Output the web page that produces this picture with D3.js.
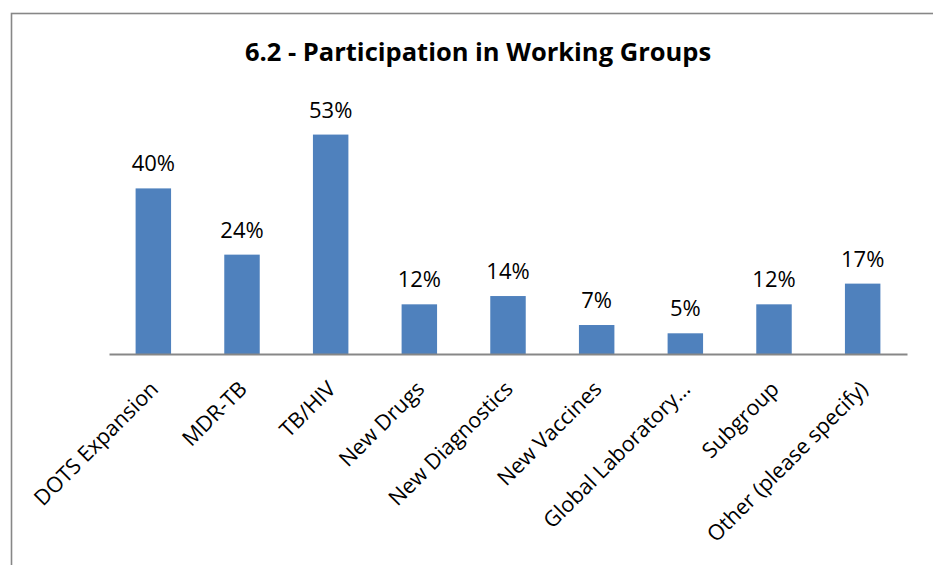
<!DOCTYPE html>
<html>
<head>
<meta charset="utf-8">
<script src="https://cdn.jsdelivr.net/npm/d3@7"></script>
<style>
  body { margin: 0; background: #fff; }
  svg { display: block; }
</style>
</head>
<body>
<div id="chart"></div>
<script>
// values
var groups = ["DOTS Expansion", "MDR-TB", "TB/HIV", "New Drugs", "New Diagnostics",
  "New Vaccines", "Global Laboratory\u2026", "Subgroup", "Other (please specify)"];
var shares = [0.40, 0.24, 0.53, 0.12, 0.14, 0.07, 0.05, 0.12, 0.17];
var yDomain = [0, 0.6];
var chartTitle = "6.2 - Participation in Working Groups";

var width = 933, height = 565;
var margin = {top: 106, right: 26, bottom: 211, left: 109};

var svg = d3.select("#chart").append("svg")
  .attr("width", width)
  .attr("height", height);

// chart frame (cut off on the right and bottom in the original)
svg.append("rect")
  .attr("x", 11.5).attr("y", 13.5)
  .attr("width", 1000).attr("height", 1000)
  .attr("fill", "none")
  .attr("stroke", "#878787")
  .attr("stroke-width", 1.6);

var x = d3.scaleBand()
  .domain(groups)
  .range([margin.left, width - margin.right])
  .paddingInner(0.6)
  .paddingOuter(0.3);

var y = d3.scaleLinear()
  .domain(yDomain)
  .range([height - margin.bottom, height - margin.bottom - 0.6 * 414]);

var data = groups.map(function(g, i){ return {name: g, value: shares[i]}; });

svg.append("text")
  .attr("x", 478)
  .attr("y", 61)
  .attr("text-anchor", "middle")
  .attr("font-family", "Open Sans")
  .attr("font-weight", "bold")
  .attr("font-size", "25.5px")
  .attr("fill", "#000")
  .text(chartTitle);

svg.selectAll(".bar")
  .data(data)
  .enter().append("rect")
  .attr("class", "bar")
  .attr("x", function(d){ return x(d.name); })
  .attr("width", x.bandwidth())
  .attr("y", function(d){ return y(d.value); })
  .attr("height", function(d){ return y(0) - y(d.value); })
  .attr("fill", "#4f81bd");

svg.selectAll(".value")
  .data(data)
  .enter().append("text")
  .attr("class", "value")
  .attr("x", function(d){ return x(d.name) + x.bandwidth() / 2; })
  .attr("y", function(d){ return y(d.value) - 17; })
  .attr("text-anchor", "middle")
  .attr("font-family", "Open Sans")
  .attr("font-size", "22px")
  .attr("fill", "#000")
  .text(function(d){ return Math.round(d.value * 100) + "%"; });

// category axis
var xAxis = svg.append("g")
  .attr("transform", "translate(0," + y(0) + ")")
  .call(d3.axisBottom(x).tickSize(0).tickPadding(0));

xAxis.select(".domain")
  .attr("stroke", "#878787")
  .attr("stroke-width", 1.8);

xAxis.selectAll(".tick text")
  .attr("font-family", "Open Sans")
  .attr("font-size", "21.5px")
  .attr("fill", "#000")
  .attr("text-anchor", "end")
  .attr("dy", "0.35em")
  .attr("transform", "translate(1,31) rotate(-45)");
</script>
</body>
</html>
